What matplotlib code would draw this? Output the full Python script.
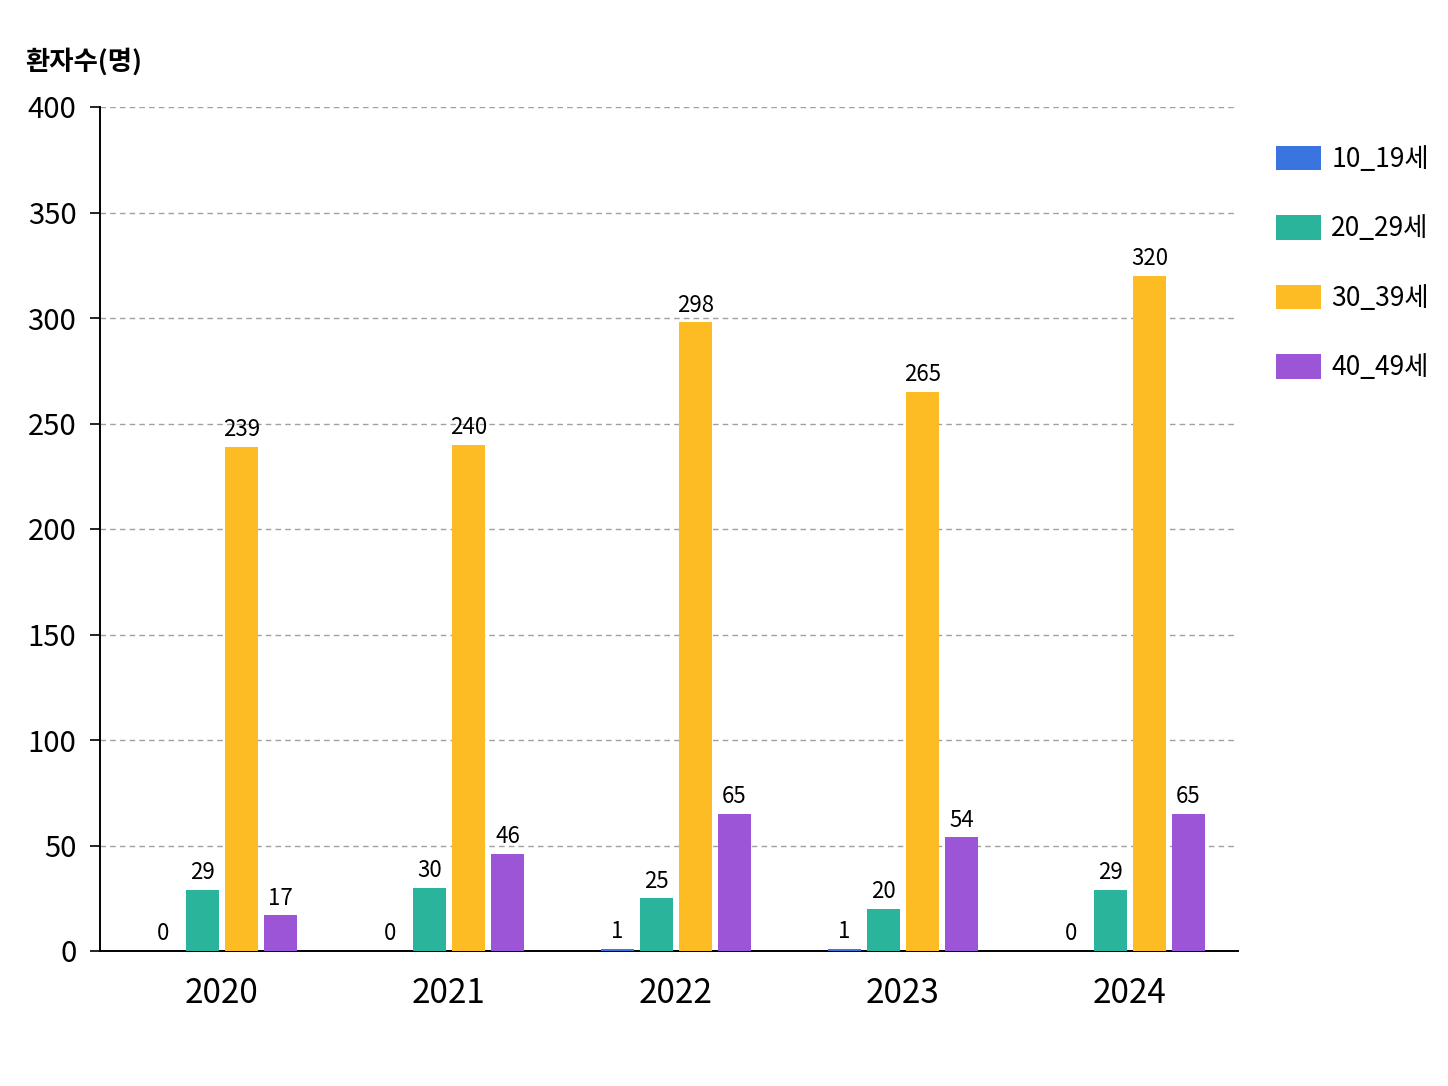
import numpy as np
import matplotlib
matplotlib.use('Agg')
import matplotlib.pyplot as plt

plt.rcParams['font.family'] = ['Noto Sans CJK KR', 'DejaVu Sans']

years = ['2020', '2021', '2022', '2023', '2024']
groups = ['10_19세', '20_29세', '30_39세', '40_49세']
age_10s = [0, 0, 1, 1, 0]
age_20s = [29, 30, 25, 20, 29]
age_30s = [239, 240, 298, 265, 320]
age_40s = [17, 46, 65, 54, 65]
colors = ['#3a74df', '#2bb49c', '#fdbb24', '#9d55d7']

series = [age_10s, age_20s, age_30s, age_40s]

fig = plt.figure(figsize=(14.48, 10.86), dpi=100)
ax = fig.add_axes([100 / 1448, 1 - 951 / 1086, 1138 / 1448, 844 / 1086])

x = np.arange(len(years))
width = 0.145
step = 0.172
for i, (vals, name, c) in enumerate(zip(series, groups, colors)):
    bars = ax.bar(x + (i - 1.5) * step, vals, width, color=c, label=name, zorder=3)
    ax.bar_label(bars, padding=4, fontsize=16)

ax.set_ylim(0, 400)
ax.set_xlim(-0.537, 4.476)
ax.set_yticks(range(0, 401, 50))
ax.set_xticks(x)
ax.set_xticklabels(years, fontsize=24)
ax.tick_params(axis='y', labelsize=21, length=7, width=1.2, pad=10)
ax.tick_params(axis='x', length=0, pad=18)
ax.grid(axis='y', linestyle=(0, (4, 3)), color='#a0a0a0', linewidth=1, zorder=0)

for s in ['top', 'right']:
    ax.spines[s].set_visible(False)
ax.spines['left'].set_linewidth(1.4)
ax.spines['bottom'].set_linewidth(1.4)

fig.text(25 / 1448, 1 - 62 / 1086, '환자수(명)', fontsize=19, fontweight='bold',
         va='center', ha='left')

fig.legend(loc='upper left', bbox_to_anchor=(1252 / 1448, 1 - 122 / 1086),
           frameon=False, fontsize=19, handlelength=1.7, handleheight=1.05,
           labelspacing=1.6, handletextpad=0.4)

fig.savefig('out.png', dpi=100, facecolor='white')
